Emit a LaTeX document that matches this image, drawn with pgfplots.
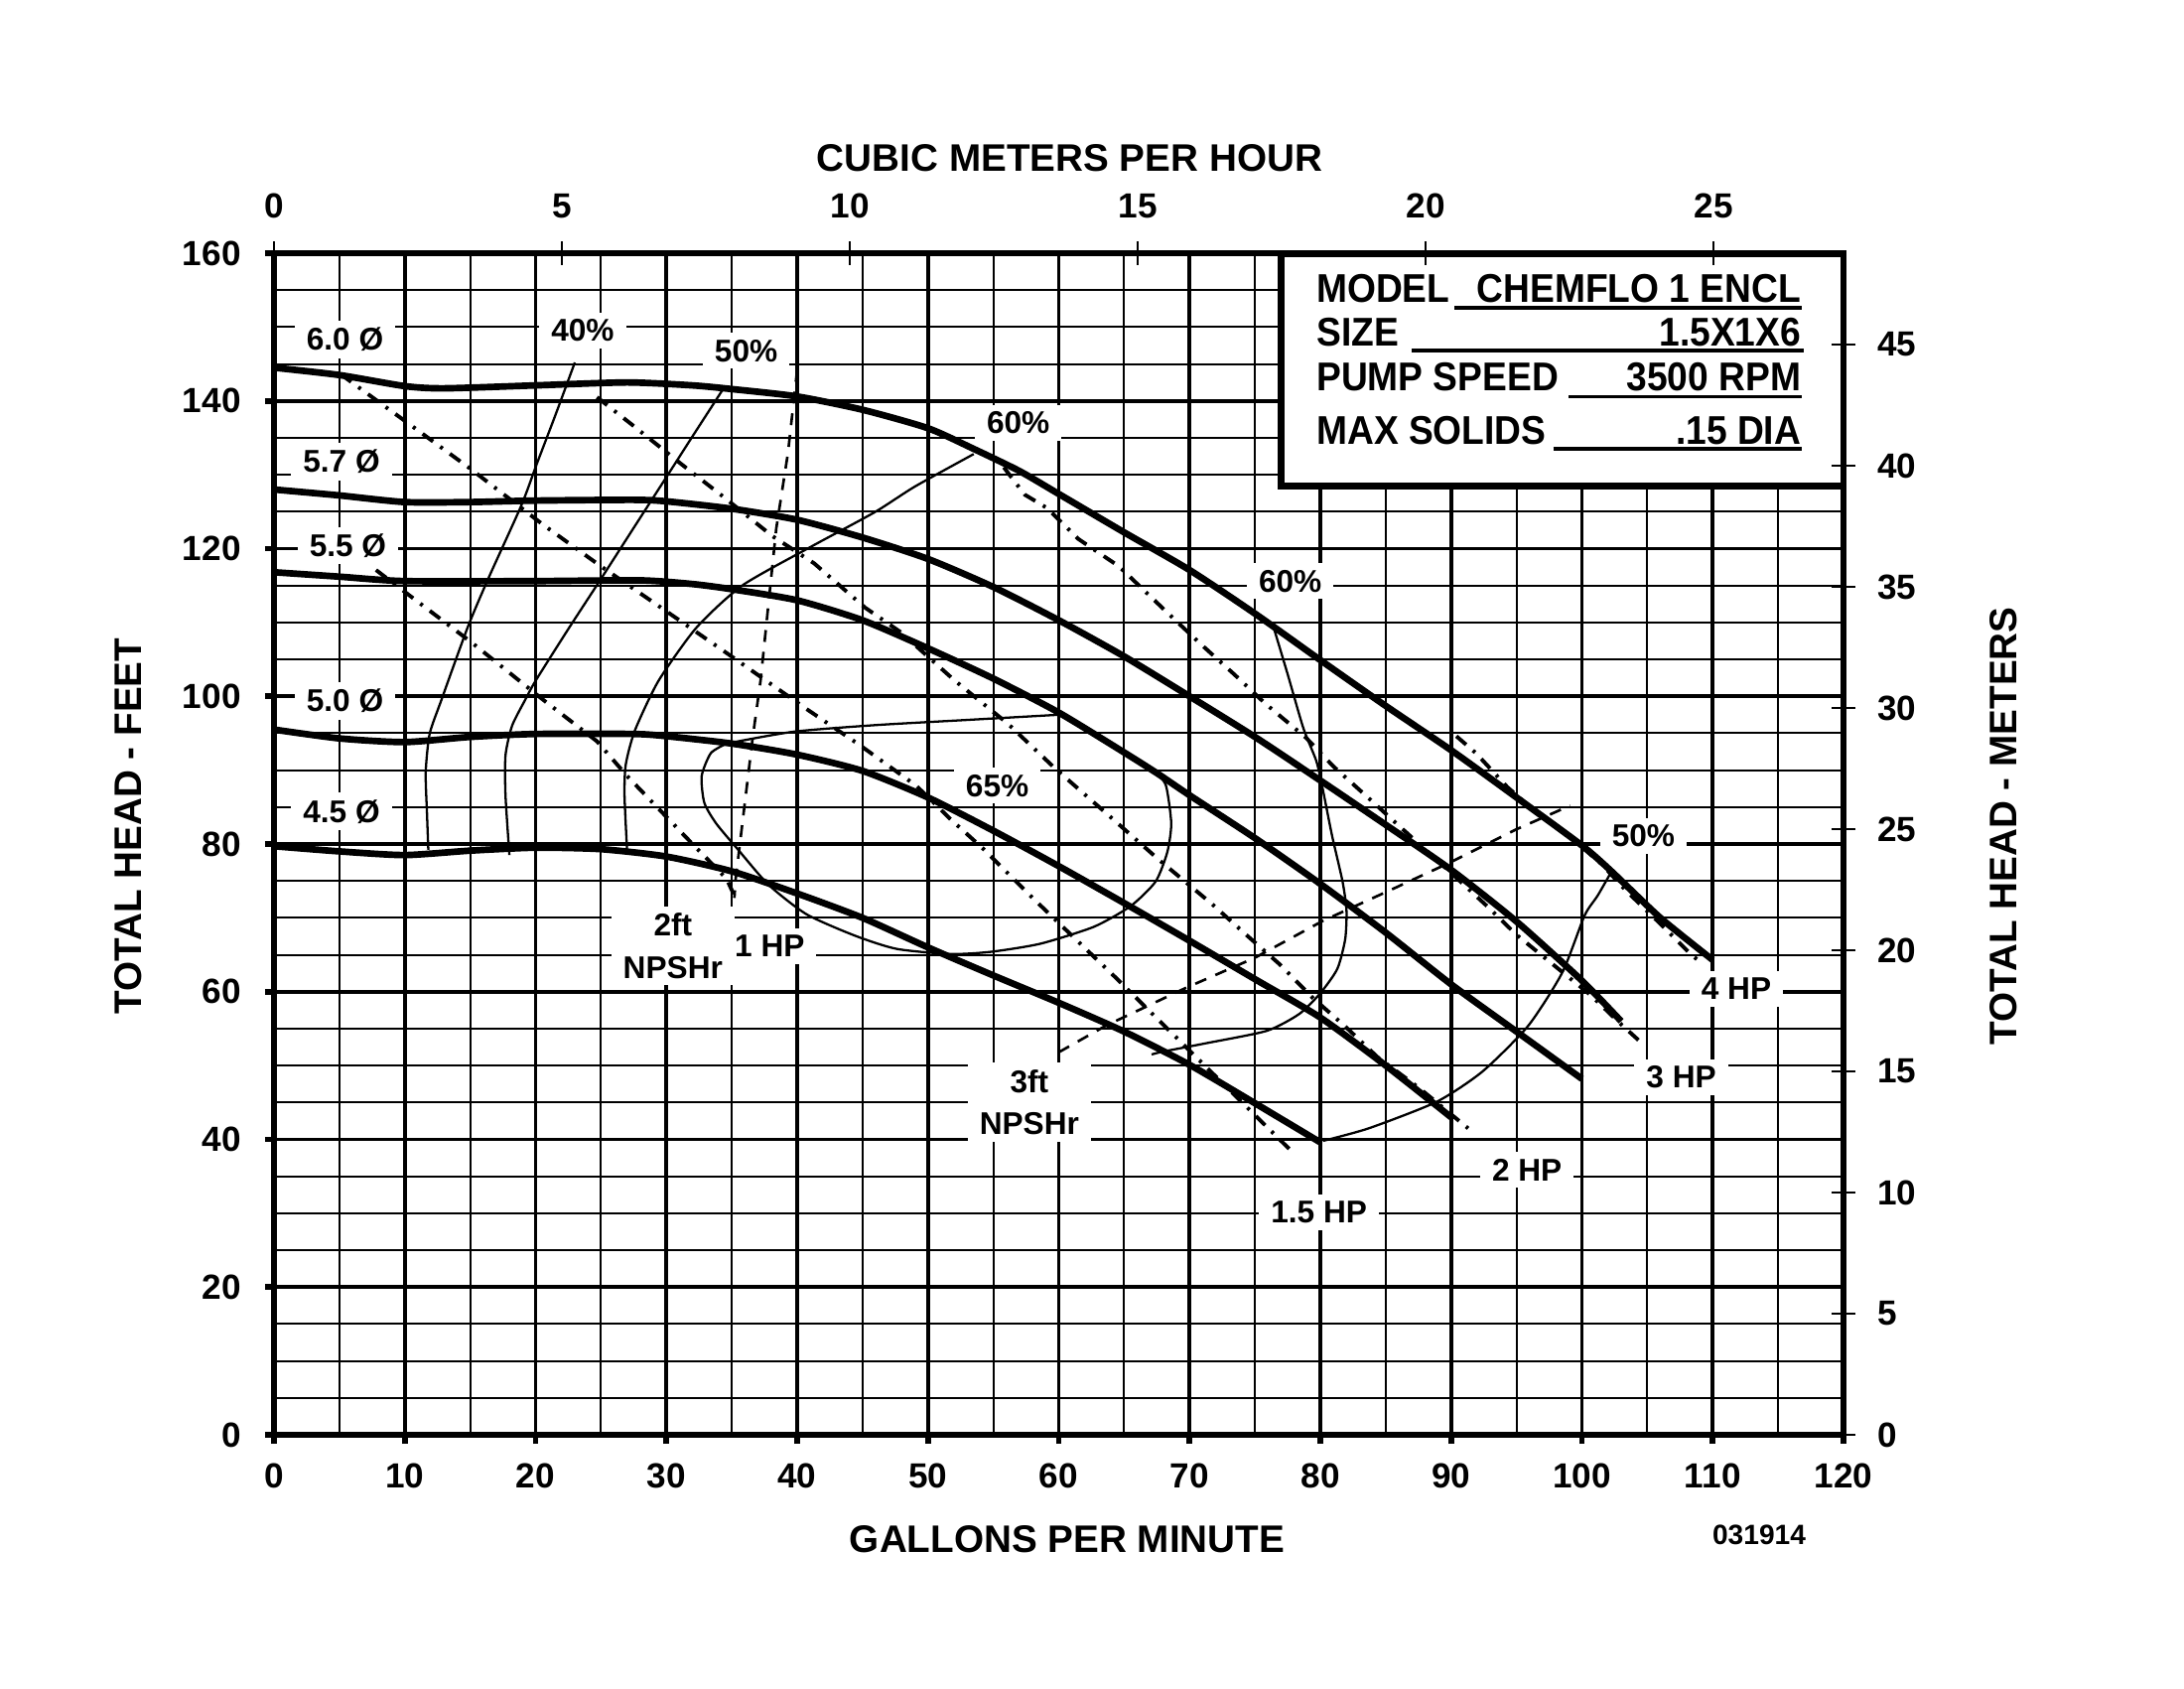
\documentclass[border=0pt]{standalone}
\usepackage{fontspec}
\setmainfont{Liberation Sans}
\newfontfamily\boxfont{Liberation Sans}[FakeStretch=0.92]
\usepackage{pgfplots}
\pgfplotsset{compat=1.18}
\tikzset{
  lab/.style={fill=white, inner xsep=1.2mm, inner ysep=0.7mm, align=center,
    font=\fontsize{9}{12}\selectfont\bfseries},
  head/.style={line width=1.9pt, black, smooth, tension=0.4},
  eff/.style={line width=0.65pt, black, smooth, tension=0.4},
  hp/.style={line width=1.1pt, black, dash pattern=on 1.3mm off 0.9mm on 0.3mm off 0.9mm},
  npsh/.style={line width=0.75pt, black, dash pattern=on 1.2mm off 1.0mm},
}
\begin{document}
\begin{tikzpicture}[x=1mm,y=1mm]
\useasboundingbox (-27.6,-25.5) rectangle (192.4,144.5);

% main axis: GPM vs feet
\begin{axis}[
  at={(0,0)}, anchor=south west,
  width=158.1mm, height=119mm, scale only axis,
  xmin=0, xmax=120, ymin=0, ymax=160,
  xtick={0,10,...,120}, ytick={0,20,...,160},
  minor x tick num=1, minor y tick num=3,
  grid=both,
  major grid style={line width=1.1pt, black},
  minor grid style={line width=0.6pt, black},
  xtick pos=bottom, ytick pos=left,
  tick align=outside, major tick length=0.9mm, minor tick length=0mm,
  tick style={line width=1.6pt, black},
  axis line style={line width=1.6pt},
  /pgf/number format/assume math mode=true,
  ticklabel style={font=\fontsize{10}{12}\selectfont\bfseries},
  xticklabel style={yshift=-0.8mm},
  yticklabel style={xshift=-1.2mm},
]

% impeller diameter head curves
\addplot[head] coordinates {(0,144.5) (5,143.5) (10,142) (13,141.7) (20,142.1) (27,142.5) (32,142.1) (35,141.6) (40,140.6) (45,138.8) (50,136.3) (53.5,133.5) (57,130.5) (60,127.4) (65,122.2) (70,117.1) (75,111.2) (80,104.9) (85,98.7) (90,92.7) (95,86.3) (100,79.8) (102.2,76.4) (106,70) (110,64.3)};
\addplot[head] coordinates {(0,128) (5,127.2) (10,126.3) (15,126.3) (20,126.5) (27.5,126.6) (30,126.4) (35,125.4) (40,123.9) (45,121.5) (50,118.6) (55,114.8) (60,110.3) (65,105.4) (70,100) (75,94.5) (80,88.6) (85,82.6) (90,76.5) (95,69.5) (100,61.5) (103,56)};
\addplot[head] coordinates {(0,116.8) (5,116.2) (10,115.6) (20,115.6) (28,115.7) (32,115.2) (35,114.5) (40,113) (45,110.3) (50,106.5) (55,102.4) (60,97.8) (65,92.4) (67.5,89.6) (70,86.6) (75,80.8) (80,74.6) (85,68) (90,61) (95,54.6) (100,48.2)};
\addplot[head] coordinates {(0,95.5) (5,94.3) (10,93.8) (15,94.5) (20,94.9) (27.5,94.9) (30,94.6) (35,93.6) (40,92.1) (45,89.9) (50,86.3) (55,81.8) (60,77) (65,72) (70,66.9) (75,61.7) (80,56.5) (85,50) (90,43)};
\addplot[head] coordinates {(0,79.7) (5,79) (10,78.5) (15,79.1) (20,79.5) (25,79.3) (30,78.3) (35,76.3) (40,73.3) (45,70) (50,66) (55,62.2) (60,58.5) (65,54.6) (70,50.1) (75,44.9) (80,39.6)};

% efficiency curves
\addplot[eff] coordinates {(23,145.2) (21.5,138) (20.1,131.5) (18.9,125.8) (16.4,116) (14.8,109.3) (12.8,99.5) (11.9,94.9) (11.6,89.7) (11.7,84.1) (11.8,79.2)};
\addplot[eff] coordinates {(34.3,141.5) (32,135.2) (29.9,129.4) (27.5,122.8) (25,115.9) (22.5,109.1) (20,102.1) (19.2,99.5) (18.2,96) (17.7,92) (17.7,86.6) (18,78.5)};
\addplot[eff] coordinates {(53.5,132.8) (49,128.4) (45.9,124.9) (41,120.2) (35.8,115) (32.3,109.3) (29.4,102.1) (27.6,95.4) (26.9,90.8) (26.8,86.6) (27,79)};
\addplot[eff] coordinates {(34.6,93.6) (39.7,95.2) (46,96.1) (53,96.8) (60,97.5)};
\addplot[eff] coordinates {(34.6,93.6) (33.4,92.3) (32.7,89.2) (32.9,85.6) (33.8,82.8) (35.5,79.2) (37.8,74.5) (40.7,70.5) (44.4,67.6) (47.6,65.8) (51.7,65.1) (54.8,65.4) (58.6,66.5) (62.7,68.8) (65.5,71.6) (67.4,74.9) (68.3,78.9) (68.6,82.8) (68.2,87.9) (67.4,89.8)};
\addplot[eff] coordinates {(76.4,109.5) (77.5,103) (78.7,95.7) (79.7,91.2) (80.2,87.3) (80.9,81.1) (81.7,74.9) (82,71) (81.9,67.1) (81.3,63.1) (80,59.8) (78.4,57) (75.9,54.7) (71.2,53) (68,51.9) (67.1,51.5)};
\addplot[eff] coordinates {(102.3,76.4) (101.2,73) (100.2,70.3) (98.5,62.6) (95.9,55.4) (92.4,49.2) (88.9,45.1) (83.7,41.5) (80.2,39.8)};

% horsepower lines
\addplot[hp] coordinates {(7.8,117.1) (10.7,113.2) (15.1,107.3) (20.6,99.5) (24.7,93.9) (27,89.2) (29.5,84.6) (32,80) (34.6,75.3) (35.2,73)};
\addplot[hp] coordinates {(5.1,143.6) (10.7,136.4) (15.1,130.7) (20.6,123.2) (25,117.6) (30.5,110.9) (34.9,105.5) (40.7,98.3) (44.7,93.5) (49.1,87.9) (51.7,83.4) (54.2,79.4) (58,72.7) (64.3,62) (70.7,50.8) (77.8,38.4)};
\addplot[hp] coordinates {(24.7,140.5) (27.5,136.6) (31.1,131.5) (34.3,127.1) (38.1,121.7) (41.3,118) (45.2,112) (47.9,108.7) (52,102.2) (56.1,96.3) (59.8,90.1) (63.8,83.9) (67.7,77.8) (71.7,71.9) (74.4,67.6) (76.9,63.7) (79.4,59.2) (81.9,55.3) (84.4,51.1) (87.6,46.9) (91.3,41.5)};
\addplot[hp] coordinates {(55.8,131) (57.4,127.3) (59.1,125.5) (61.5,121.3) (64.6,117.6) (68.2,111.5) (70.9,107) (73.4,103) (75.8,99) (78.9,94.4) (81,90.5) (83.7,86.2) (86.3,82) (89.8,76.4) (92.8,71.5) (95,67.7) (100.7,59.5) (102.8,55.9) (104.6,53)};
\addplot[hp] coordinates {(90.4,94.6) (91.9,92.3) (94.3,87.7) (96.7,84) (99.4,80.5) (101.5,77.3) (103.3,73.8) (105.7,69.7) (108.3,65.1) (109.2,63.8)};

% NPSHr lines
\addplot[npsh] coordinates {(40,144.2) (39.3,133) (38.4,122.7) (37.8,112.4) (37.2,102.1) (36.6,94.4) (35.9,84.1) (35.3,75.3) (35.2,72.7)};
\addplot[npsh] coordinates {(60,51.8) (63.6,55.4) (69.7,60.5) (75,64.6) (80.2,69.6) (85.4,73.8) (89.8,77.4) (95,82) (99.1,85.2)};

% curve labels
\node[lab] at (axis cs:5.43,148.3) {6.0 Ø};
\node[lab] at (axis cs:5.16,131.8) {5.7 Ø};
\node[lab] at (axis cs:5.65,120.4) {5.5 Ø};
\node[lab] at (axis cs:5.43,99.4) {5.0 Ø};
\node[lab] at (axis cs:5.16,84.4) {4.5 Ø};
\node[lab] at (axis cs:23.6,149.5) {40\%};
\node[lab] at (axis cs:36.1,146.8) {50\%};
\node[lab] at (axis cs:56.9,137) {60\%};
\node[lab] at (axis cs:55.3,87.9) {65\%};
\node[lab] at (axis cs:77.7,115.6) {60\%};
\node[lab] at (axis cs:104.7,81.1) {50\%};
\node[lab] at (axis cs:30.5,66.2) {2ft\\NPSHr};
\node[lab] at (axis cs:37.9,66.2) {1 HP};
\node[lab] at (axis cs:57.75,45.05) {3ft\\NPSHr};
\node[lab] at (axis cs:111.8,60.4) {4 HP};
\node[lab] at (axis cs:107.6,48.4) {3 HP};
\node[lab] at (axis cs:95.8,35.9) {2 HP};
\node[lab] at (axis cs:79.9,30.1) {1.5 HP};

% model box
\draw[line width=2pt, fill=white] (axis cs:77,128.5) rectangle (axis cs:120,160);
\begin{scope}[font=\fontsize{11.5}{13}\selectfont\boxfont\bfseries]
\node[anchor=base west, inner sep=0pt] at (axis cs:79.66,153.4) {MODEL};
\node[anchor=base east, inner sep=0pt] at (axis cs:116.8,153.4) {CHEMFLO 1 ENCL};
\node[anchor=base west, inner sep=0pt] at (axis cs:79.66,147.4) {SIZE};
\node[anchor=base east, inner sep=0pt] at (axis cs:116.8,147.4) {1.5X1X6};
\node[anchor=base west, inner sep=0pt] at (axis cs:79.66,141.4) {PUMP SPEED};
\node[anchor=base east, inner sep=0pt] at (axis cs:116.8,141.4) {3500 RPM};
\node[anchor=base west, inner sep=0pt] at (axis cs:79.66,134.1) {MAX SOLIDS};
\node[anchor=base east, inner sep=0pt] at (axis cs:116.8,134.1) {.15 DIA};
\end{scope}
\draw[line width=1pt] (axis cs:90.25,152.6) -- (axis cs:116.8,152.6);
\draw[line width=1pt] (axis cs:87,146.8) -- (axis cs:117,146.8);
\draw[line width=1pt] (axis cs:99,140.6) -- (axis cs:116.8,140.6);
\draw[line width=1pt] (axis cs:97.8,133.5) -- (axis cs:116.8,133.5);
\end{axis}

% secondary scales: cubic meters per hour and meters
\begin{axis}[
  at={(0,0)}, anchor=south west,
  width=158.1mm, height=119mm, scale only axis,
  xmin=0, xmax=27.2545, ymin=0, ymax=48.768,
  axis x line*=top, axis y line*=right,
  axis line style={-, line width=1.6pt},
  xtick={0,5,...,25}, ytick={0,5,...,45},
  tick align=center, major tick length=2.4mm,
  tick style={line width=0.6pt, black},
  /pgf/number format/assume math mode=true,
  ticklabel style={font=\fontsize{10}{12}\selectfont\bfseries},
  xticklabel style={yshift=1.1mm},
  yticklabel style={xshift=1mm},
]
\addplot[draw=none] coordinates {(0,0)};
\end{axis}

\begin{scope}[font=\fontsize{11}{13}\selectfont\bfseries]
\node at (80.15,128.6) {CUBIC METERS PER HOUR};
\node at (79.9,-10.5) {GALLONS PER MINUTE};
\node[rotate=90] at (-14.7,61.3) {TOTAL HEAD - FEET};
\node[rotate=90] at (174.2,61.3) {TOTAL HEAD - METERS};
\end{scope}
\node[font=\fontsize{8}{10}\selectfont\bfseries] at (149.6,-10.1) {031914};
\end{tikzpicture}
\end{document}
